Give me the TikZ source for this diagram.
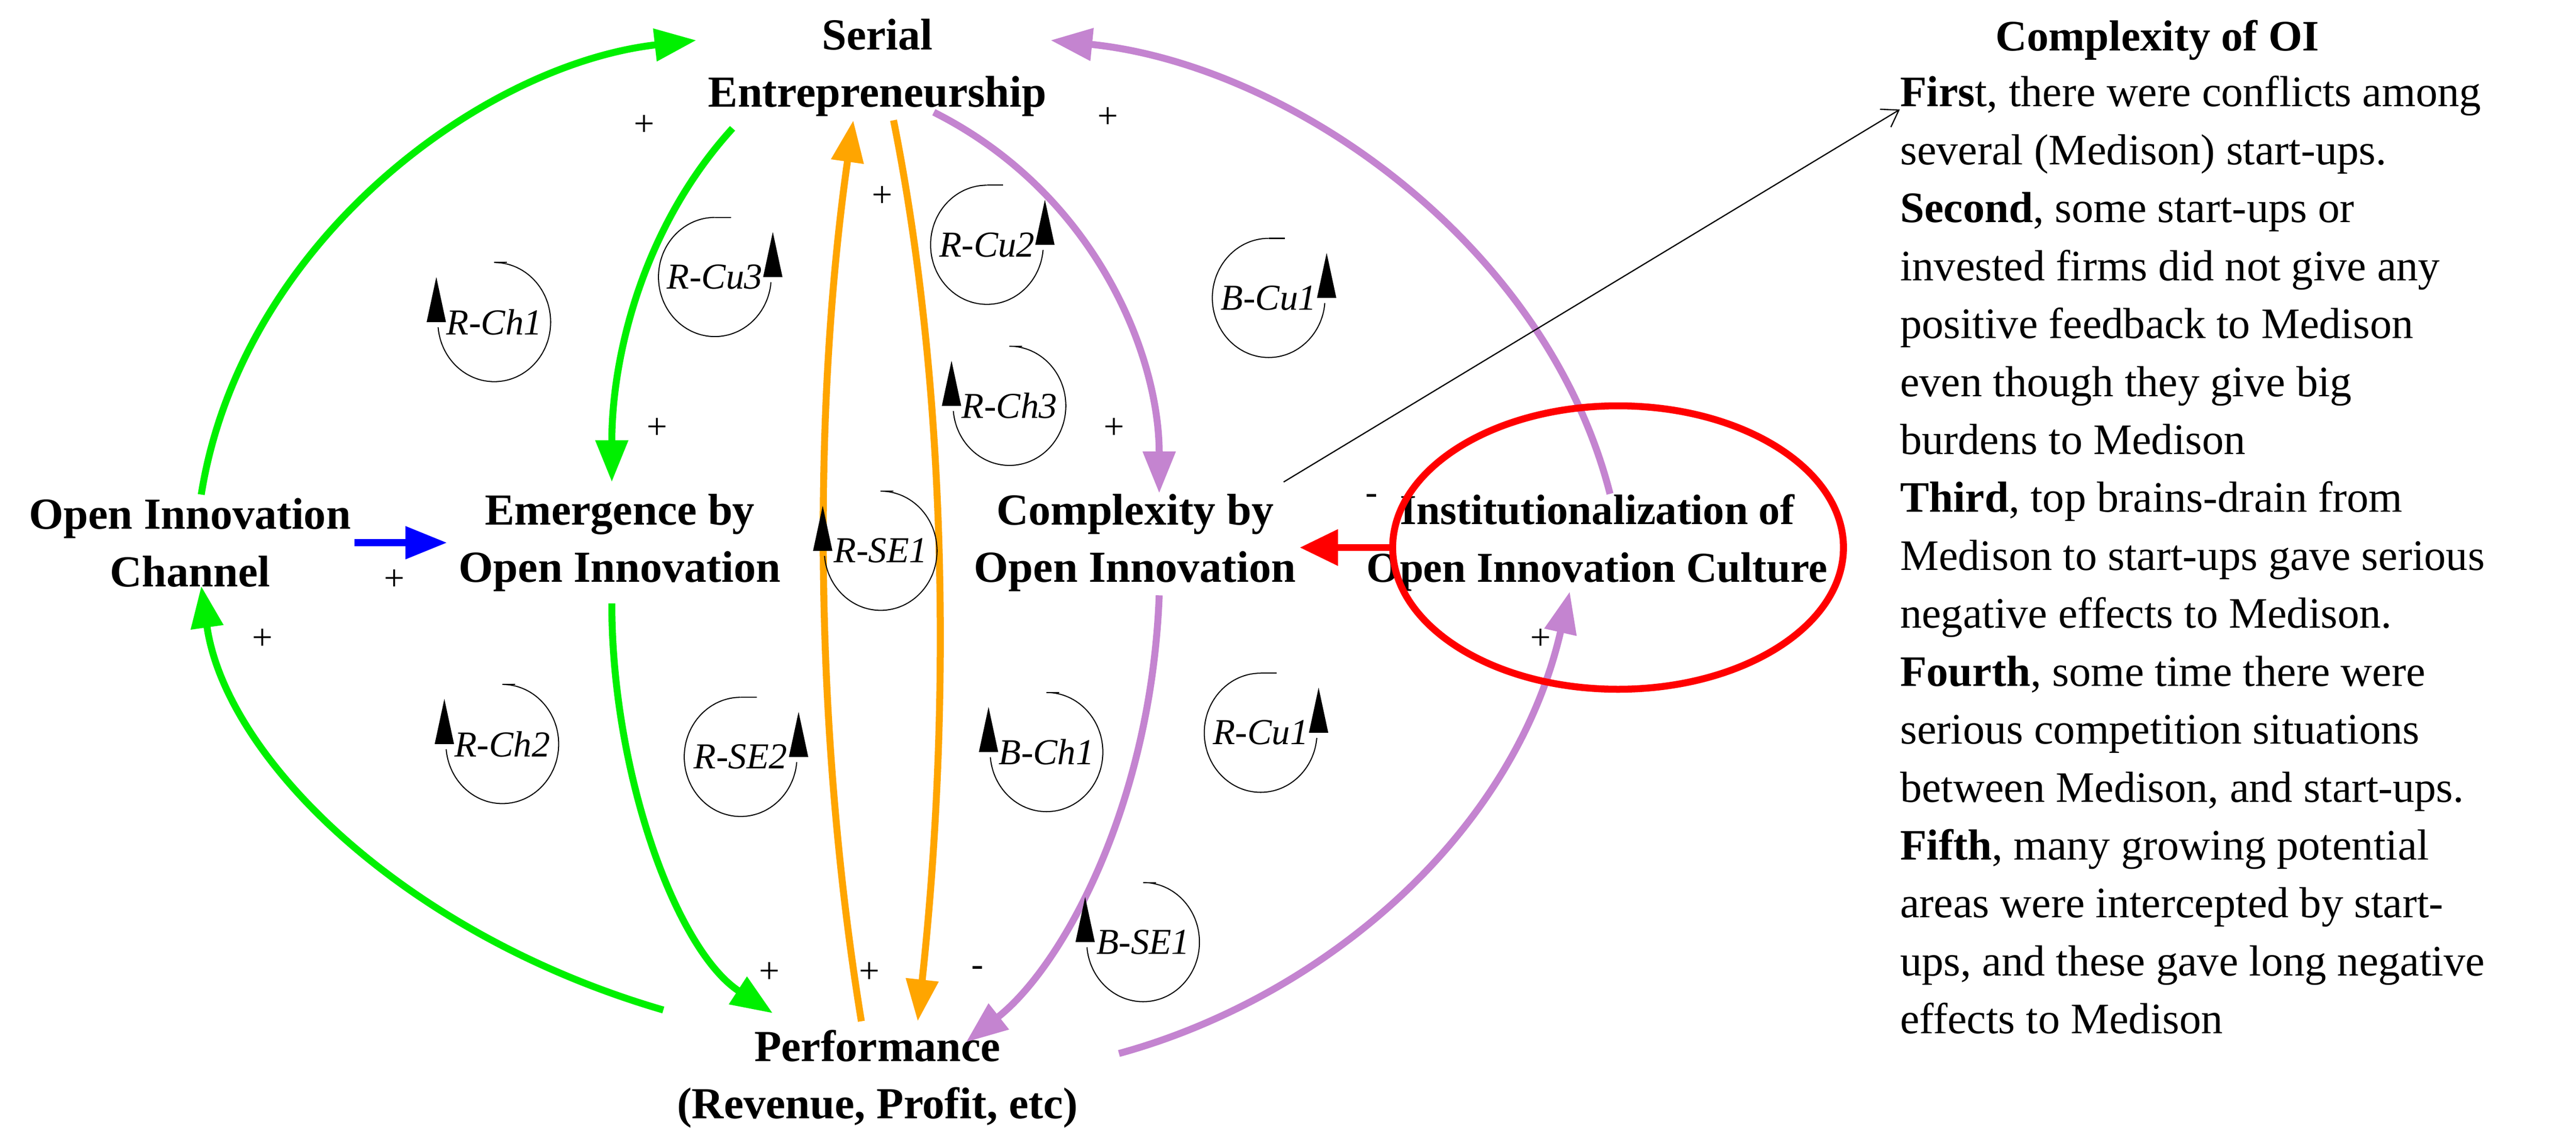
\documentclass[tikz,border=0pt]{standalone}
\usepackage{fontspec}
\setmainfont{Liberation Serif}
\usetikzlibrary{arrows.meta,calc}
\definecolor{lime}{RGB}{0,240,0}
\definecolor{orng}{RGB}{255,165,0}
\definecolor{purp}{RGB}{196,132,208}
\begin{document}
\begin{tikzpicture}[x=0.032525cm,y=-0.032525cm,
  lab/.style={font=\fontsize{25.5}{33}\selectfont\bfseries,align=center,inner sep=2pt},
  sgn/.style={font=\fontsize{21}{21}\selectfont,inner sep=0pt},
  lp/.style={font=\fontsize{21}{21}\selectfont\itshape,inner sep=0pt},
  ar/.style={line width=4pt,-{Triangle[length=24pt,width=18pt]}},
  g/.style={ar,draw=lime,-{Triangle[length=24pt,width=18pt,fill=lime]}},
  o/.style={ar,draw=orng},
  p/.style={ar,draw=purp}]
\useasboundingbox (0,0) rectangle (1600,709.6);
\node[lab] (SE) at (545,42) {Serial\\Entrepreneurship};
\node[lab] (OIC) at (118,337) {Open Innovation\\Channel};
\node[lab] (EOI) at (385,337) {Emergence by\\Open Innovation};
\node[lab] (COI) at (705,337) {Complexity by\\Open Innovation};
\node[lab,font=\fontsize{24.5}{33}\selectfont\bfseries] (IOC) at (992,337) {Institutionalization of\\Open Innovation Culture};
\node[lab] (PERF) at (545,670) {Performance\\(Revenue, Profit, etc)};
% green
\draw[g] ($(OIC.north)+(7,0)$) .. controls (150,150) and (300,40) .. ($(SE.west)+(-5,-17)$);
\draw[g] ($(SE.south)+(-90,5)$) .. controls (400,140) and (380,220) .. ($(EOI.north)+(-5,-5)$);
\draw[g] ($(EOI.south)+(-5,5)$) .. controls (380,480) and (420,590) .. ($(PERF.north)+(-65,-8)$);
\draw[g] ($(PERF.north)+(-133,-10)$) .. controls (250,580) and (140,470) .. ($(OIC.south)+(7,-3)$);
% orange
\draw[o] ($(PERF.north)+(-10,-3)$) .. controls (505,450) and (505,250) .. ($(SE.south)+(-15,0)$);
\draw[o] ($(SE.south)+(10,0)$) .. controls (590,250) and (590,450) .. ($(PERF.north)+(25,-3)$);
% purple
\draw[p] ($(SE.south)+(35,-5)$) .. controls (680,120) and (720,220) .. ($(COI.north)+(15,2)$);
\draw[p] ($(IOC.north)+(8,2)$) .. controls (960,150) and (800,40) .. ($(SE.east)+(0,-17)$);
\draw[p] ($(COI.south)+(15,0)$) .. controls (715,500) and (660,600) .. ($(PERF.north)+(55,10)$);
\draw[p] ($(PERF.north)+(150,17)$) .. controls (820,620) and (940,520) .. ($(IOC.south)+(-17,-2)$);
% blue
\draw[line width=4pt,blue,-{Triangle[length=24pt,width=18pt]}] ($(OIC.east)+(0,0)$) -- ($(EOI.west)+(-5,0)$);
% red loop
\draw[red,line width=4pt] ($(IOC.center)+(13,3)$) ellipse [x radius=140,y radius=88];
\draw[red,line width=4pt,-{Triangle[length=22pt,width=20pt]}] ($(IOC.center)+(-125,3)$) -- ($(COI.east)+(0,3)$);
% thin arrow
\coordinate (oi) at (1180,68);
\draw[line width=0.7pt,-{Straight Barb[length=9pt,width=12pt]}] ($(COI.north east)+(-10,-5)$) -- (oi);
% signs
\node[sgn] at (400,78) {+};
\node[sgn] at (408,266) {+};
\node[sgn] at (478,604) {+};
\node[sgn] at (163,397) {+};
\node[sgn] at (548,122) {+};
\node[sgn] at (540,604) {+};
\node[sgn] at (692,266) {+};
\node[sgn] at (688,73) {+};
\node[sgn] at (607,603) {-};
\node[sgn] at (957,397) {+};
\node[sgn] at (245,360) {+};
\node[sgn] at (852,310) {-};
% loop markers: triangle left
\foreach \x/\y/\t in {305/200/R-Ch1, 625/252/R-Ch3, 545/342/R-SE1, 310/462/R-Ch2, 648/467/B-Ch1, 708/585/B-SE1}{
  \draw[line width=0.6pt] (\x+2,\y-37) -- (\x+10,\y-37);
  \draw[line width=0.6pt] (\x+2,\y-37) arc[start angle=-90,end angle=175,x radius=35,y radius=37];
  \fill (\x-40,\y) -- (\x-34,\y-28) -- (\x-28,\y) -- cycle;
  \node[lp] at (\x+2,\y) {\t};
}
% loop markers: triangle right
\foreach \x/\y/\t in {446/172/R-Cu3, 615/152/R-Cu2, 790/185/B-Cu1, 462/470/R-SE2, 785/455/R-Cu1}{
  \draw[line width=0.6pt] (\x-2,\y-37) -- (\x+8,\y-37);
  \draw[line width=0.6pt] (\x-2,\y-37) arc[start angle=270,end angle=5,x radius=35,y radius=37];
  \fill (\x+28,\y) -- (\x+34,\y-28) -- (\x+40,\y) -- cycle;
  \node[lp] at (\x-2,\y) {\t};
}
% text block
\node[font=\fontsize{25}{33}\selectfont\bfseries,inner sep=0pt] (ttl) at (1340,25) {Complexity of OI};
\node[font=\fontsize{25}{33.3}\selectfont,align=left,anchor=north west,inner sep=0pt] (txt) at (1180,47) {%
\textbf{Firs}t, there were conflicts among\\
several (Medison) start-ups.\\
\textbf{Second}, some start-ups or\\
invested firms did not give any\\
positive feedback to Medison\\
even though they give big\\
burdens to Medison\\
\textbf{Third}, top brains-drain from\\
Medison to start-ups gave serious\\
negative effects to Medison.\\
\textbf{Fourth}, some time there were\\
serious competition situations\\
between Medison, and start-ups.\\
\textbf{Fifth}, many growing potential\\
areas were intercepted by start-\\
ups, and these gave long negative\\
effects to Medison};
\end{tikzpicture}
\end{document}
